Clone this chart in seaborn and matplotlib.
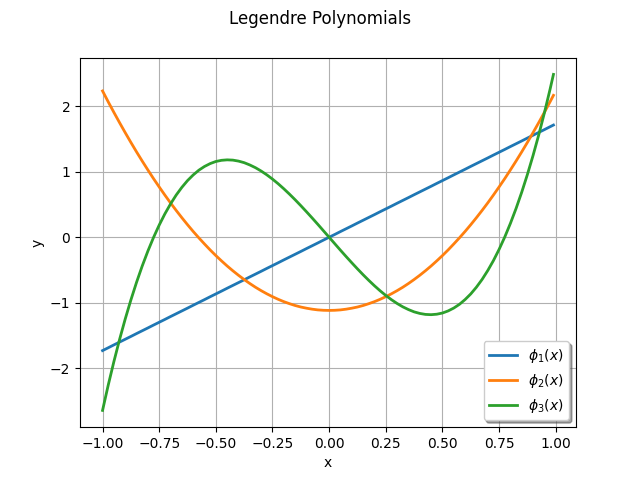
import matplotlib
matplotlib.use("Agg")
import matplotlib.pyplot as plt
import seaborn as sns

x = [-1.000, -0.975, -0.950, -0.925, -0.900, -0.875, -0.850, -0.825, -0.800, -0.775,
     -0.750, -0.725, -0.700, -0.675, -0.650, -0.625, -0.600, -0.575, -0.550, -0.525,
     -0.500, -0.475, -0.450, -0.425, -0.400, -0.375, -0.350, -0.325, -0.300, -0.275,
     -0.250, -0.225, -0.200, -0.175, -0.150, -0.125, -0.100, -0.075, -0.050, -0.025,
     0.000,
     0.025, 0.050, 0.075, 0.100, 0.125, 0.150, 0.175, 0.200, 0.225, 0.250,
     0.275, 0.300, 0.325, 0.350, 0.375, 0.400, 0.425, 0.450, 0.475, 0.500,
     0.525, 0.550, 0.575, 0.600, 0.625, 0.650, 0.675, 0.700, 0.725, 0.750,
     0.775, 0.800, 0.825, 0.850, 0.875, 0.900, 0.925, 0.950, 0.975, 0.990]

phi1 = [-1.732, -1.689, -1.645, -1.602, -1.559, -1.516, -1.472, -1.429, -1.386, -1.342,
        -1.299, -1.256, -1.212, -1.169, -1.126, -1.083, -1.039, -0.996, -0.953, -0.909,
        -0.866, -0.823, -0.779, -0.736, -0.693, -0.650, -0.606, -0.563, -0.520, -0.476,
        -0.433, -0.390, -0.346, -0.303, -0.260, -0.217, -0.173, -0.130, -0.087, -0.043,
        0.000,
        0.043, 0.087, 0.130, 0.173, 0.217, 0.260, 0.303, 0.346, 0.390, 0.433,
        0.476, 0.520, 0.563, 0.606, 0.650, 0.693, 0.736, 0.779, 0.823, 0.866,
        0.909, 0.953, 0.996, 1.039, 1.083, 1.126, 1.169, 1.212, 1.256, 1.299,
        1.342, 1.386, 1.429, 1.472, 1.516, 1.559, 1.602, 1.645, 1.689, 1.715]

phi2 = [2.236, 2.070, 1.909, 1.752, 1.599, 1.450, 1.305, 1.165, 1.029, 0.896,
        0.769, 0.645, 0.525, 0.410, 0.299, 0.192, 0.089, -0.009, -0.103, -0.194,
        -0.280, -0.361, -0.439, -0.512, -0.581, -0.646, -0.707, -0.764, -0.816, -0.864,
        -0.908, -0.948, -0.984, -1.015, -1.043, -1.066, -1.084, -1.099, -1.110, -1.116,
        -1.118,
        -1.116, -1.110, -1.099, -1.084, -1.066, -1.043, -1.015, -0.984, -0.948, -0.908,
        -0.864, -0.816, -0.764, -0.707, -0.646, -0.581, -0.512, -0.439, -0.361, -0.280,
        -0.194, -0.103, -0.009, 0.089, 0.192, 0.299, 0.410, 0.525, 0.645, 0.769,
        0.896, 1.029, 1.165, 1.305, 1.450, 1.599, 1.752, 1.909, 2.070, 2.169]

phi3 = [-2.646, -2.261, -1.901, -1.564, -1.250, -0.959, -0.689, -0.440, -0.212, -0.003,
        0.186, 0.357, 0.509, 0.645, 0.763, 0.866, 0.952, 1.025, 1.082, 1.126,
        1.158, 1.176, 1.183, 1.179, 1.164, 1.140, 1.105, 1.063, 1.012, 0.954,
        0.889, 0.818, 0.741, 0.659, 0.573, 0.483, 0.390, 0.295, 0.198, 0.099,
        0.000,
        -0.099, -0.198, -0.295, -0.390, -0.483, -0.573, -0.659, -0.741, -0.818, -0.889,
        -0.954, -1.012, -1.063, -1.105, -1.140, -1.164, -1.179, -1.183, -1.176, -1.158,
        -1.126, -1.082, -1.025, -0.952, -0.866, -0.763, -0.645, -0.509, -0.357, -0.186,
        0.003, 0.212, 0.440, 0.689, 0.959, 1.250, 1.564, 1.901, 2.261, 2.489]

labels = [r"$\phi_1(x)$", r"$\phi_2(x)$", r"$\phi_3(x)$"]
colors = ["#1f77b4", "#ff7f0e", "#2ca02c"]

fig, ax = plt.subplots(figsize=(6.4, 4.8), dpi=100)
for ys, lab, col in zip([phi1, phi2, phi3], labels, colors):
    sns.lineplot(x=x, y=ys, ax=ax, label=lab, color=col, linewidth=2, legend=False)

ax.set_xlabel("x")
ax.set_ylabel("y")
ax.grid(True)
ax.legend(loc="lower right", shadow=True)
fig.suptitle("Legendre Polynomials")
fig.savefig("out.png", dpi=100)
